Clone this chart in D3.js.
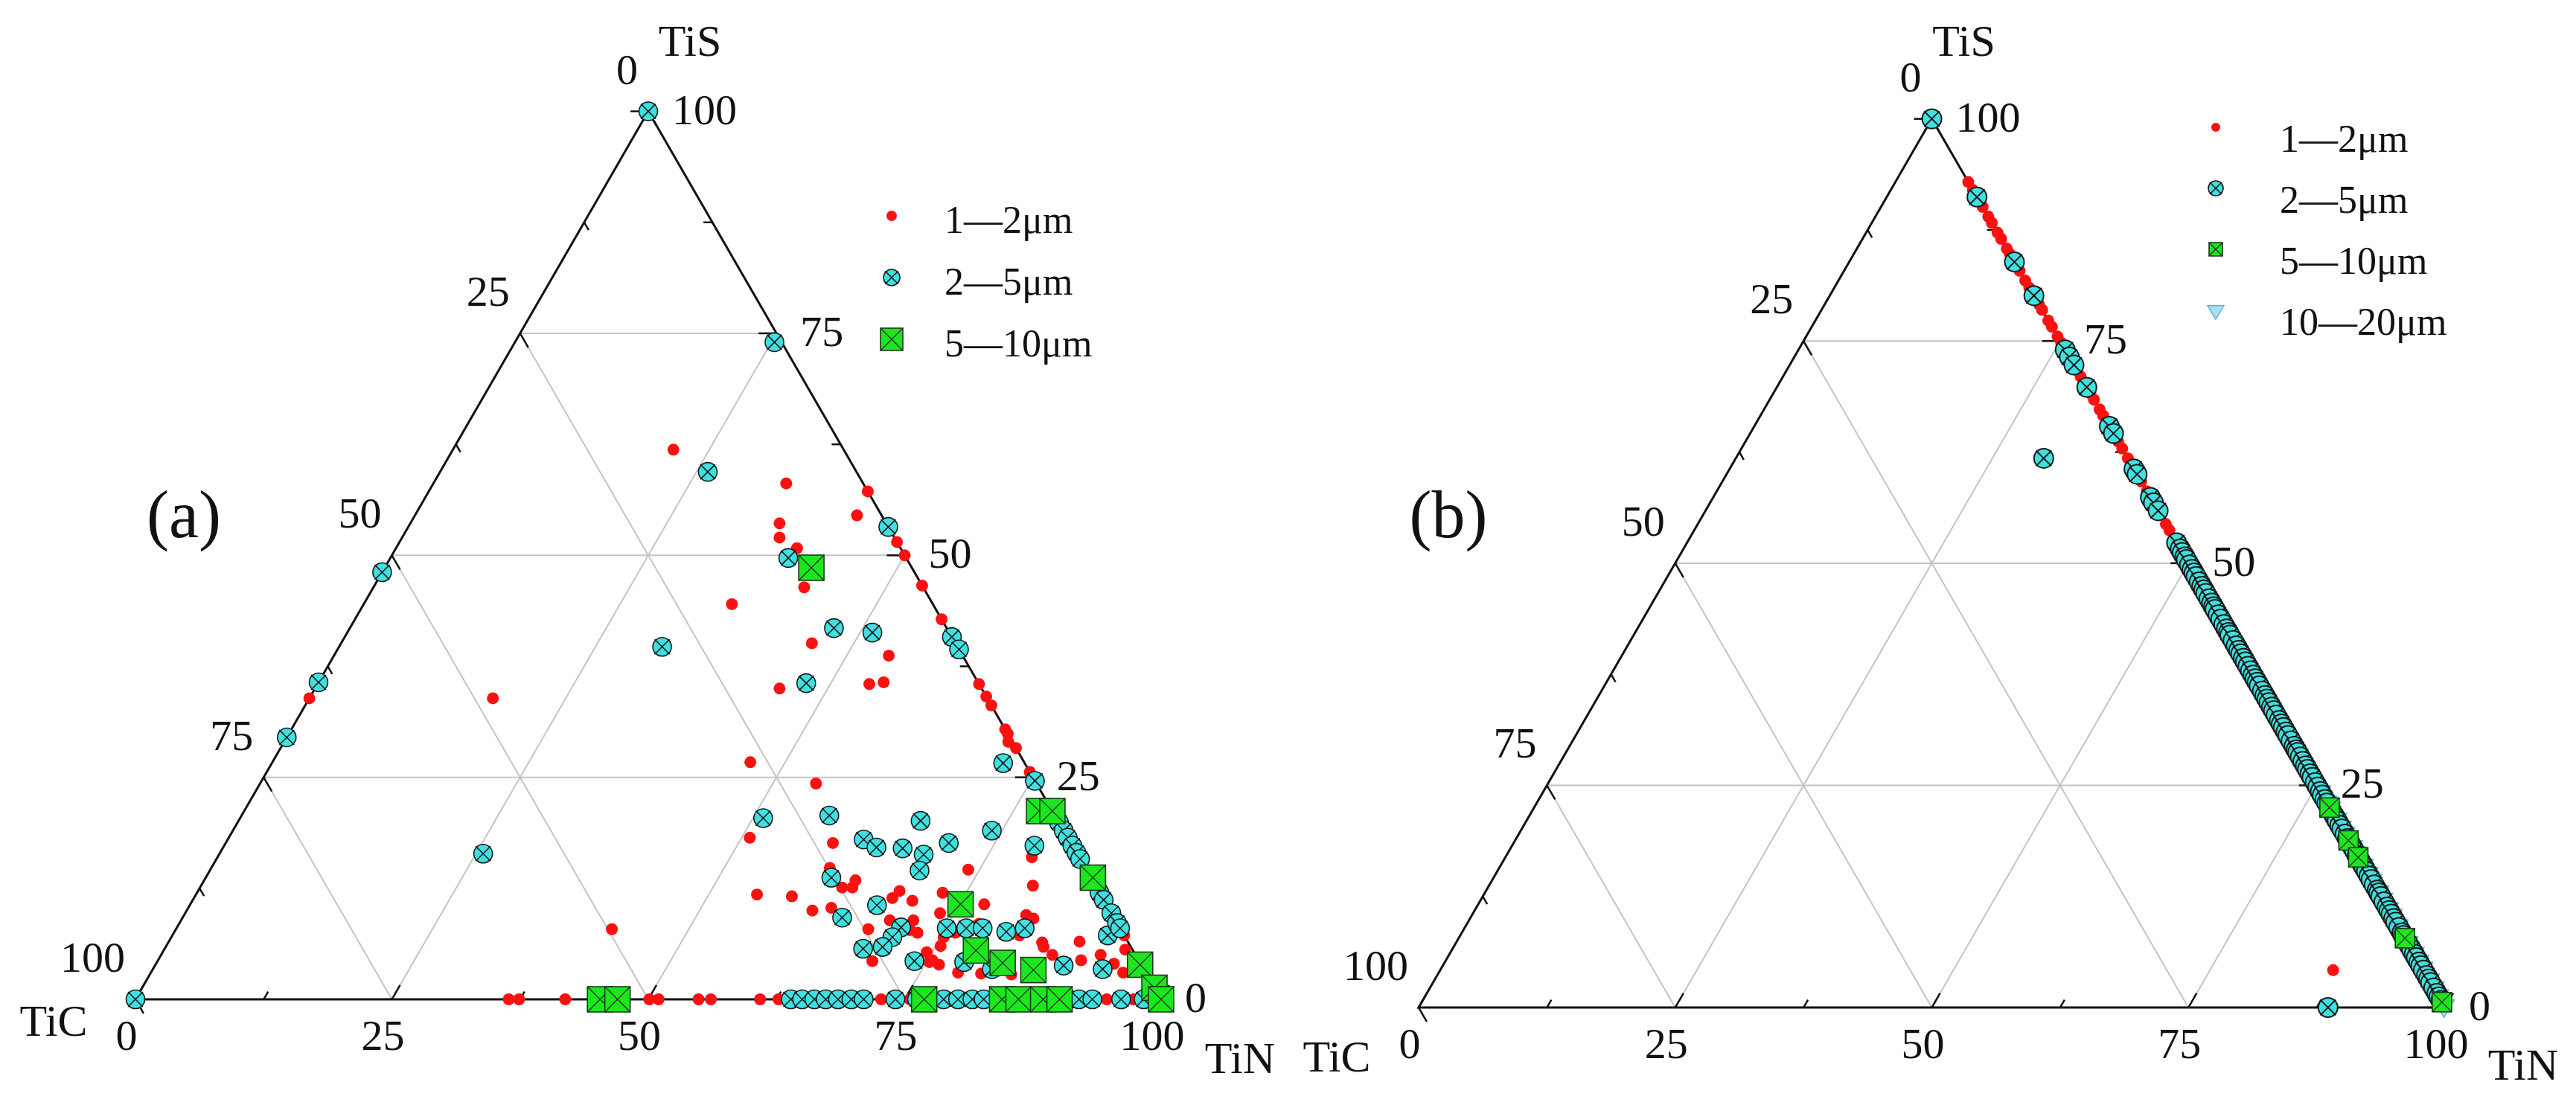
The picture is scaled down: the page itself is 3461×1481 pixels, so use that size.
<!DOCTYPE html>
<html>
<head>
<meta charset="utf-8">
<script src="https://cdn.jsdelivr.net/npm/d3@7"></script>
<style>
  body { margin: 0; background: #fff; }
  svg text { font-family: "Liberation Serif", "Times New Roman", Times, "DejaVu Serif", serif; fill: #111; }
</style>
</head>
<body>
<div id="container"></div>
<script>
/* CONSTANTS AND GLOBALS */
const width = 3461,
      height = 1481;

const tickValues = [0, 25, 50, 75, 100];
const minorTicks = [12.5, 37.5, 62.5, 87.5];
const gridValues = [25, 50, 75];

// points are [TiN, TiS] in %, TiC = 100 - TiN - TiS

// panel (a)
const aSmall = [
  [21.5,61.9],[34.4,58.1],[42.8,57.2],[43.1,54.5],[36.0,53.6],[36.8,52.0],[39.1,50.8],[48.5,51.5],
  [50.0,50.0],[42.0,46.4],[35.9,44.5],[53.4,46.6],[57.2,42.8],[45.9,40.1],[54.1,38.7],[45.3,35.0],
  [53.8,35.5],[55.1,35.7],[64.5,35.5],[65.9,34.1],[66.9,33.1],[69.6,30.4],[70.1,29.9],[70.6,29.0],
  [71.7,28.3],[74.4,25.6],[17.9,33.9],[0,33.9],[42.5,7.9],
  [46.6,26.7],[54.2,24.3],[50.8,18.2],[59.2,17.6],[54.7,11.8],[58.2,11.6],[61.0,10.0],[62.7,10.3],
  [60.3,14.8],[62.6,12.6],[63.6,12.6],[63.5,13.4],[67.5,7.9],[69.7,4.3],[68.4,12.2],[68.1,11.4],
  [70.2,11.1],[69.1,8.9],[71.4,8.9],[71.6,7.8],[72.5,7.5],[74.5,5.3],[75.5,4.4],[75.5,6.0],
  [75.3,4.2],[76.4,3.9],[75.5,7.8],[75.3,7.0],[76.2,7.5],[72.7,12.0],[73.6,9.7],[73.9,14.6],
  [77.4,10.7],[78.0,8.5],[81.0,2.9],[78.7,3.0],[84.0,2.8],[81.1,12.8],[79.4,16.0],[82.1,9.5],
  [83.0,9.1],[82.6,7.2],[85.2,6.4],[85.6,5.9],[86.9,5.0],[88.8,6.5],[90.0,4.4],[91.6,5.0],
  [93.4,4.0],[94.8,3.0],[93.7,5.6],[89.1,10.9],[92.8,7.2],
  [36.4,0],[37.4,0],[41.9,0],[50.1,0],[51.0,0],[54.9,0],[56.1,0],[60.9,0],[62.7,0],[72.7,0],
  [75.5,0],[94.7,0],[97.3,0]
];
const aMid = [
  [0,100],[0,0],[0,48.1],[0,35.7],[0,29.5],[25.3,74.0],[46.8,53.2],[59.2,40.8],[60.6,39.4],[75.4,24.6],
  [26.1,59.4],[38.8,49.7],[31.5,39.7],[47.2,41.8],[51.2,41.3],[47.6,35.6],[71.3,26.6],[51.0,20.4],
  [57.3,20.7],[66.5,20.1],[74.0,19.0],[62.0,18.0],[63.7,17.1],[66.3,17.0],[70.5,17.6],[68.7,16.3],
  [69.2,14.5],[79.0,17.3],[25.7,16.4],[61.0,13.7],[64.3,9.2],[67.0,10.6],[70.6,8.1],[70.3,7.0],
  [69.9,5.9],[68.1,5.7],[73.8,4.3],[75.1,8.0],[77.0,8.0],[78.6,8.0],[81.1,7.6],[82.7,8.0],
  [78.7,4.2],[81.8,3.4],[88.6,3.8],[92.6,3.4],[91.2,7.2],
  [79.0,21.0],[80.1,19.9],[81.0,19.0],[81.8,18.2],[82.7,17.3],[83.5,16.5],[84.2,15.8],[88.0,12.0],
  [88.8,11.2],[90.3,9.7],[91.4,8.6],[92.0,8.0],
  [63.9,0],[65.0,0],[66.2,0],[67.3,0],[68.5,0],[69.8,0],[71.0,0],[74.1,0],[76.2,0],[78.8,0],[80.2,0],
  [81.6,0],[82.7,0],[87.3,0],[91.0,0],[92.0,0],[93.3,0],[96.1,0],[98.3,0]
];
const aLarge = [
  [41.6,48.6],[77.5,21.2],[78.8,21.2],[86.5,13.7],[75.1,10.7],[79.2,5.5],[82.5,4.1],[85.9,3.3],
  [96.0,3.9],[98.7,1.3],[100,0],[45.3,0],[47.0,0],[76.9,0],[84.5,0],[86.1,0],[88.5,0],[90.1,0]
];

// panel (b): most points sit on the TiN-TiS side (TiC = 0), listed by TiS
const bSmallEdge = [92.9,92.0,91.0,90.1,89.0,88.3,87.2,86.5,85.4,84.8,83.6,82.9,81.8,81.0,80.2,79.1,
  78.5,77.3,76.6,75.5,74.8,73.6,72.9,71.7,71.0,70.2,69.1,68.4,67.3,66.6,65.5,64.8,63.7,62.9,61.8,
  61.1,60.0,59.2,58.1,57.4,56.3,55.6,54.4,53.7,52.5,51.8,50.6,49.8,48.7];
const bSmallOther = [[87.0,4.2]];
const bMidEdge = [100,91.2,83.9,80.1,74.0,73.2,72.3,69.8,65.4,64.6,60.6,60.0,57.4,56.8,55.9,52.3,51.6,
  51.2,50.7,50.4,49.8,49.3,48.9,48.5,47.9,47.4,47.0,46.6,46.0,45.5,45.1,44.8,44.2,43.7,43.1,42.6,42.2,
  41.9,41.3,40.7,40.2,39.8,39.3,38.9,38.4,37.9,37.4,37.0,36.6,36.2,35.6,35.1,34.7,34.3,33.8,33.4,32.9,
  32.3,31.9,31.5,31.0,30.6,30.0,29.4,29.0,28.7,28.2,27.7,27.2,26.8,26.3,25.9,25.3,24.8,24.3,23.9,
  23.4,23.0,22.4,21.8,21.4,21.0,20.5,20.1,19.5,19.0,18.6,18.2,17.6,17.1,16.7,16.2,15.8,15.3,14.8,
  14.4,13.8,13.2,12.9,12.5,11.9,11.3,10.9,10.5,10.0,9.6,9.0,8.4,8.1,7.7,7.1,6.5,6.0,5.6,5.1,4.7,
  4.2,3.6,3.2,2.8,2.2,1.6,1.2,0.8];
const bMidOther = [[30.0,61.8],[88.6,0]];
const bLargeEdge = [22.5,18.8,16.9,7.8,0.6];
const bHugeEdge = [24.3,23.1,22.4,21.2,20.3,19.6,18.1,17.4,16.0,15.1,14.3,13.0,12.2,11.1,10.4,9.2,
  8.1,7.3,6.1,5.2,4.4,3.1,2.2,1.3,0.2];

const legendA = ["1\u20142\u03bcm", "2\u20145\u03bcm", "5\u201410\u03bcm"];
const legendB = ["1\u20142\u03bcm", "2\u20145\u03bcm", "5\u201410\u03bcm", "10\u201420\u03bcm"];

const onEdge = s => [100 - s, s];
const serif = '"Liberation Serif", "Times New Roman", Times, "DejaVu Serif", serif';

const svg = d3.select('#container')
              .append('svg')
              .attr('width', width)
              .attr('height', height)
              .attr('font-family', serif)
              .style('background', '#fff');

/* MARKERS */
function dot(g, data, fx, fy, r) {
  g.append('g').selectAll('circle').data(data).join('circle')
    .attr('cx', fx).attr('cy', fy).attr('r', r)
    .attr('fill', '#ff1010');
}

function crossCircle(g, data, fx, fy, r, sw) {
  const s = g.append('g').selectAll('g').data(data).join('g')
    .attr('transform', d => 'translate(' + fx(d) + ',' + fy(d) + ')');
  s.append('circle').attr('r', r).attr('fill', '#3fe0e0').attr('stroke', '#1a1a1a').attr('stroke-width', sw);
  const k = r * 0.8;
  s.append('path').attr('d', 'M' + -k + ',' + -k + 'L' + k + ',' + k + 'M' + -k + ',' + k + 'L' + k + ',' + -k)
    .attr('stroke', '#1a1a1a').attr('stroke-width', sw);
}

function crossSquare(g, data, fx, fy, w) {
  const s = g.append('g').selectAll('g').data(data).join('g')
    .attr('transform', d => 'translate(' + fx(d) + ',' + fy(d) + ')');
  s.append('rect').attr('x', -w / 2).attr('y', -w / 2).attr('width', w).attr('height', w)
    .attr('fill', '#1ee61e').attr('stroke', '#1a3a1a').attr('stroke-width', 1.6);
  const k = w / 2;
  s.append('path').attr('d', 'M' + -k + ',' + -k + 'L' + k + ',' + k + 'M' + -k + ',' + k + 'L' + k + ',' + -k)
    .attr('stroke', '#1a3a1a').attr('stroke-width', 1.3);
}

function triDown(g, data, fx, fy, w) {
  const h = w * 0.85;
  g.append('g').selectAll('path').data(data).join('path')
    .attr('d', d => {
      const x = fx(d), y = fy(d);
      return 'M' + (x - w / 2) + ',' + (y - h / 3) + 'L' + (x + w / 2) + ',' + (y - h / 3) +
             'L' + x + ',' + (y + 2 * h / 3) + 'Z';
    })
    .attr('fill', '#a9def0').attr('stroke', '#5fb4cc').attr('stroke-width', 1.4);
}

/* PANEL */
function drawPanel(p) {
  const xScale = d3.scaleLinear().domain([0, 100]).range([p.x0, p.x0 + p.side]);
  const yScale = d3.scaleLinear().domain([0, 100]).range([p.y0, p.y0 - p.side * Math.sqrt(3) / 2]);
  const fx = d => xScale(d[0] + d[1] / 2);
  const fy = d => yScale(d[1]);
  const g = svg.append('g');

  const line = (a, b, stroke, w) => g.append('line')
    .attr('x1', fx(a)).attr('y1', fy(a)).attr('x2', fx(b)).attr('y2', fy(b))
    .attr('stroke', stroke).attr('stroke-width', w);

  // grid
  gridValues.forEach(v => {
    line([0, v], [100 - v, v], '#c4c4c4', 2);
    line([v, 0], [v, 100 - v], '#c4c4c4', 2);
    line([100 - v, 0], [0, 100 - v], '#c4c4c4', 2);
  });

  // frame
  g.append('path')
    .attr('d', 'M' + fx([0, 0]) + ',' + fy([0, 0]) + 'L' + fx([100, 0]) + ',' + fy([100, 0]) +
               'L' + fx([0, 100]) + ',' + fy([0, 100]) + 'Z')
    .attr('fill', 'none').attr('stroke', '#111').attr('stroke-width', 3);

  // ticks, pointing inward along the constant-value lines
  const c = Math.sqrt(3) / 2;
  const tick = (pt, dx, dy, len) => g.append('line')
    .attr('x1', fx(pt)).attr('y1', fy(pt))
    .attr('x2', fx(pt) + dx * len).attr('y2', fy(pt) + dy * len)
    .attr('stroke', '#111').attr('stroke-width', 2.5);
  tickValues.forEach(v => {
    tick([100 - v, v], -1, 0, 24);      // TiS
    tick([v, 0], 0.5, -c, 22);          // TiN
    tick([0, 100 - v], 0.5, c, 22);     // TiC
  });
  minorTicks.forEach(v => {
    tick([100 - v, v], -1, 0, 12);
    tick([v, 0], 0.5, -c, 12);
    tick([0, 100 - v], 0.5, c, 12);
  });

  // tick labels
  const fs = 58;
  tickValues.forEach(v => {
    g.append('text').attr('x', fx([100 - v, v]) + 32).attr('y', fy([100 - v, v]) + 17)
      .attr('font-size', fs).attr('text-anchor', 'start').text(v);
    g.append('text').attr('x', fx([v, 0]) - 12).attr('y', fy([v, 0]) + 68)
      .attr('font-size', fs).attr('text-anchor', 'middle').text(v);
    g.append('text').attr('x', fx([0, 100 - v]) - 14).attr('y', fy([0, 100 - v]) - 37)
      .attr('font-size', fs).attr('text-anchor', 'end').text(v);
  });

  // axis titles
  g.append('text').attr('x', fx([0, 100]) + p.tisOff[0]).attr('y', fy([0, 100]) + p.tisOff[1])
    .attr('font-size', 60).attr('text-anchor', 'middle').text('TiS');
  g.append('text').attr('x', fx([0, 0]) + p.ticOff[0]).attr('y', fy([0, 0]) + p.ticOff[1])
    .attr('font-size', 60).attr('text-anchor', 'middle').text('TiC');
  g.append('text').attr('x', fx([100, 0]) + p.tinOff[0]).attr('y', fy([100, 0]) + p.tinOff[1])
    .attr('font-size', 60).attr('text-anchor', 'middle').text('TiN');

  // panel letter
  g.append('text').attr('x', p.label[0]).attr('y', p.label[1])
    .attr('font-size', 90).attr('text-anchor', 'middle').text(p.name);

  // data
  const ms = p.sizes;
  dot(g, p.small, fx, fy, ms.dot);
  if (p.huge) triDown(g, p.huge, fx, fy, ms.tri);
  crossCircle(g, p.mid, fx, fy, ms.circle, ms.sw);
  crossSquare(g, p.large, fx, fy, ms.square);

  // legend
  const lg = svg.append('g');
  const lx = p.legend.x, tx = p.legend.tx;
  p.legend.labels.forEach((lab, i) => {
    const by = p.legend.y0 + i * p.legend.dy;
    const my = by - p.legend.lift;
    lg.append('text').attr('x', tx).attr('y', by).attr('font-size', 52).text(lab);
    const fxL = () => lx, fyL = () => my;
    if (i === 0) dot(lg, [0], fxL, fyL, p.legend.sizes.dot);
    if (i === 1) crossCircle(lg, [0], fxL, fyL, p.legend.sizes.circle, 1.6);
    if (i === 2) crossSquare(lg, [0], fxL, fyL, p.legend.sizes.square);
    if (i === 3) triDown(lg, [0], fxL, fyL, p.legend.sizes.tri);
  });
}

drawPanel({
  name: '(a)', label: [247, 722],
  x0: 182, y0: 1343, side: 1378,
  tisOff: [56, -75], ticOff: [-110, 49], tinOff: [106, 99],
  small: aSmall, mid: aMid, large: aLarge,
  sizes: { dot: 8, circle: 12.5, square: 34, sw: 1.6 },
  legend: { x: 1198, tx: 1269, y0: 313, dy: 83, lift: 23, labels: legendA,
            sizes: { dot: 7, circle: 11, square: 30 } }
});

drawPanel({
  name: '(b)', label: [1946, 722],
  x0: 1906, y0: 1354, side: 1379,
  tisOff: [43, -85], ticOff: [-110, 86], tinOff: [105, 97],
  small: bSmallEdge.map(onEdge).concat(bSmallOther),
  mid: bMidEdge.map(onEdge).concat(bMidOther),
  large: bLargeEdge.map(onEdge),
  huge: bHugeEdge.map(onEdge),
  sizes: { dot: 8, circle: 13, square: 26, tri: 28, sw: 2 },
  legend: { x: 2977, tx: 3063, y0: 204, dy: 82, lift: 33, labels: legendB,
            sizes: { dot: 6, circle: 10, square: 18, tri: 22 } }
});
</script>
</body>
</html>
